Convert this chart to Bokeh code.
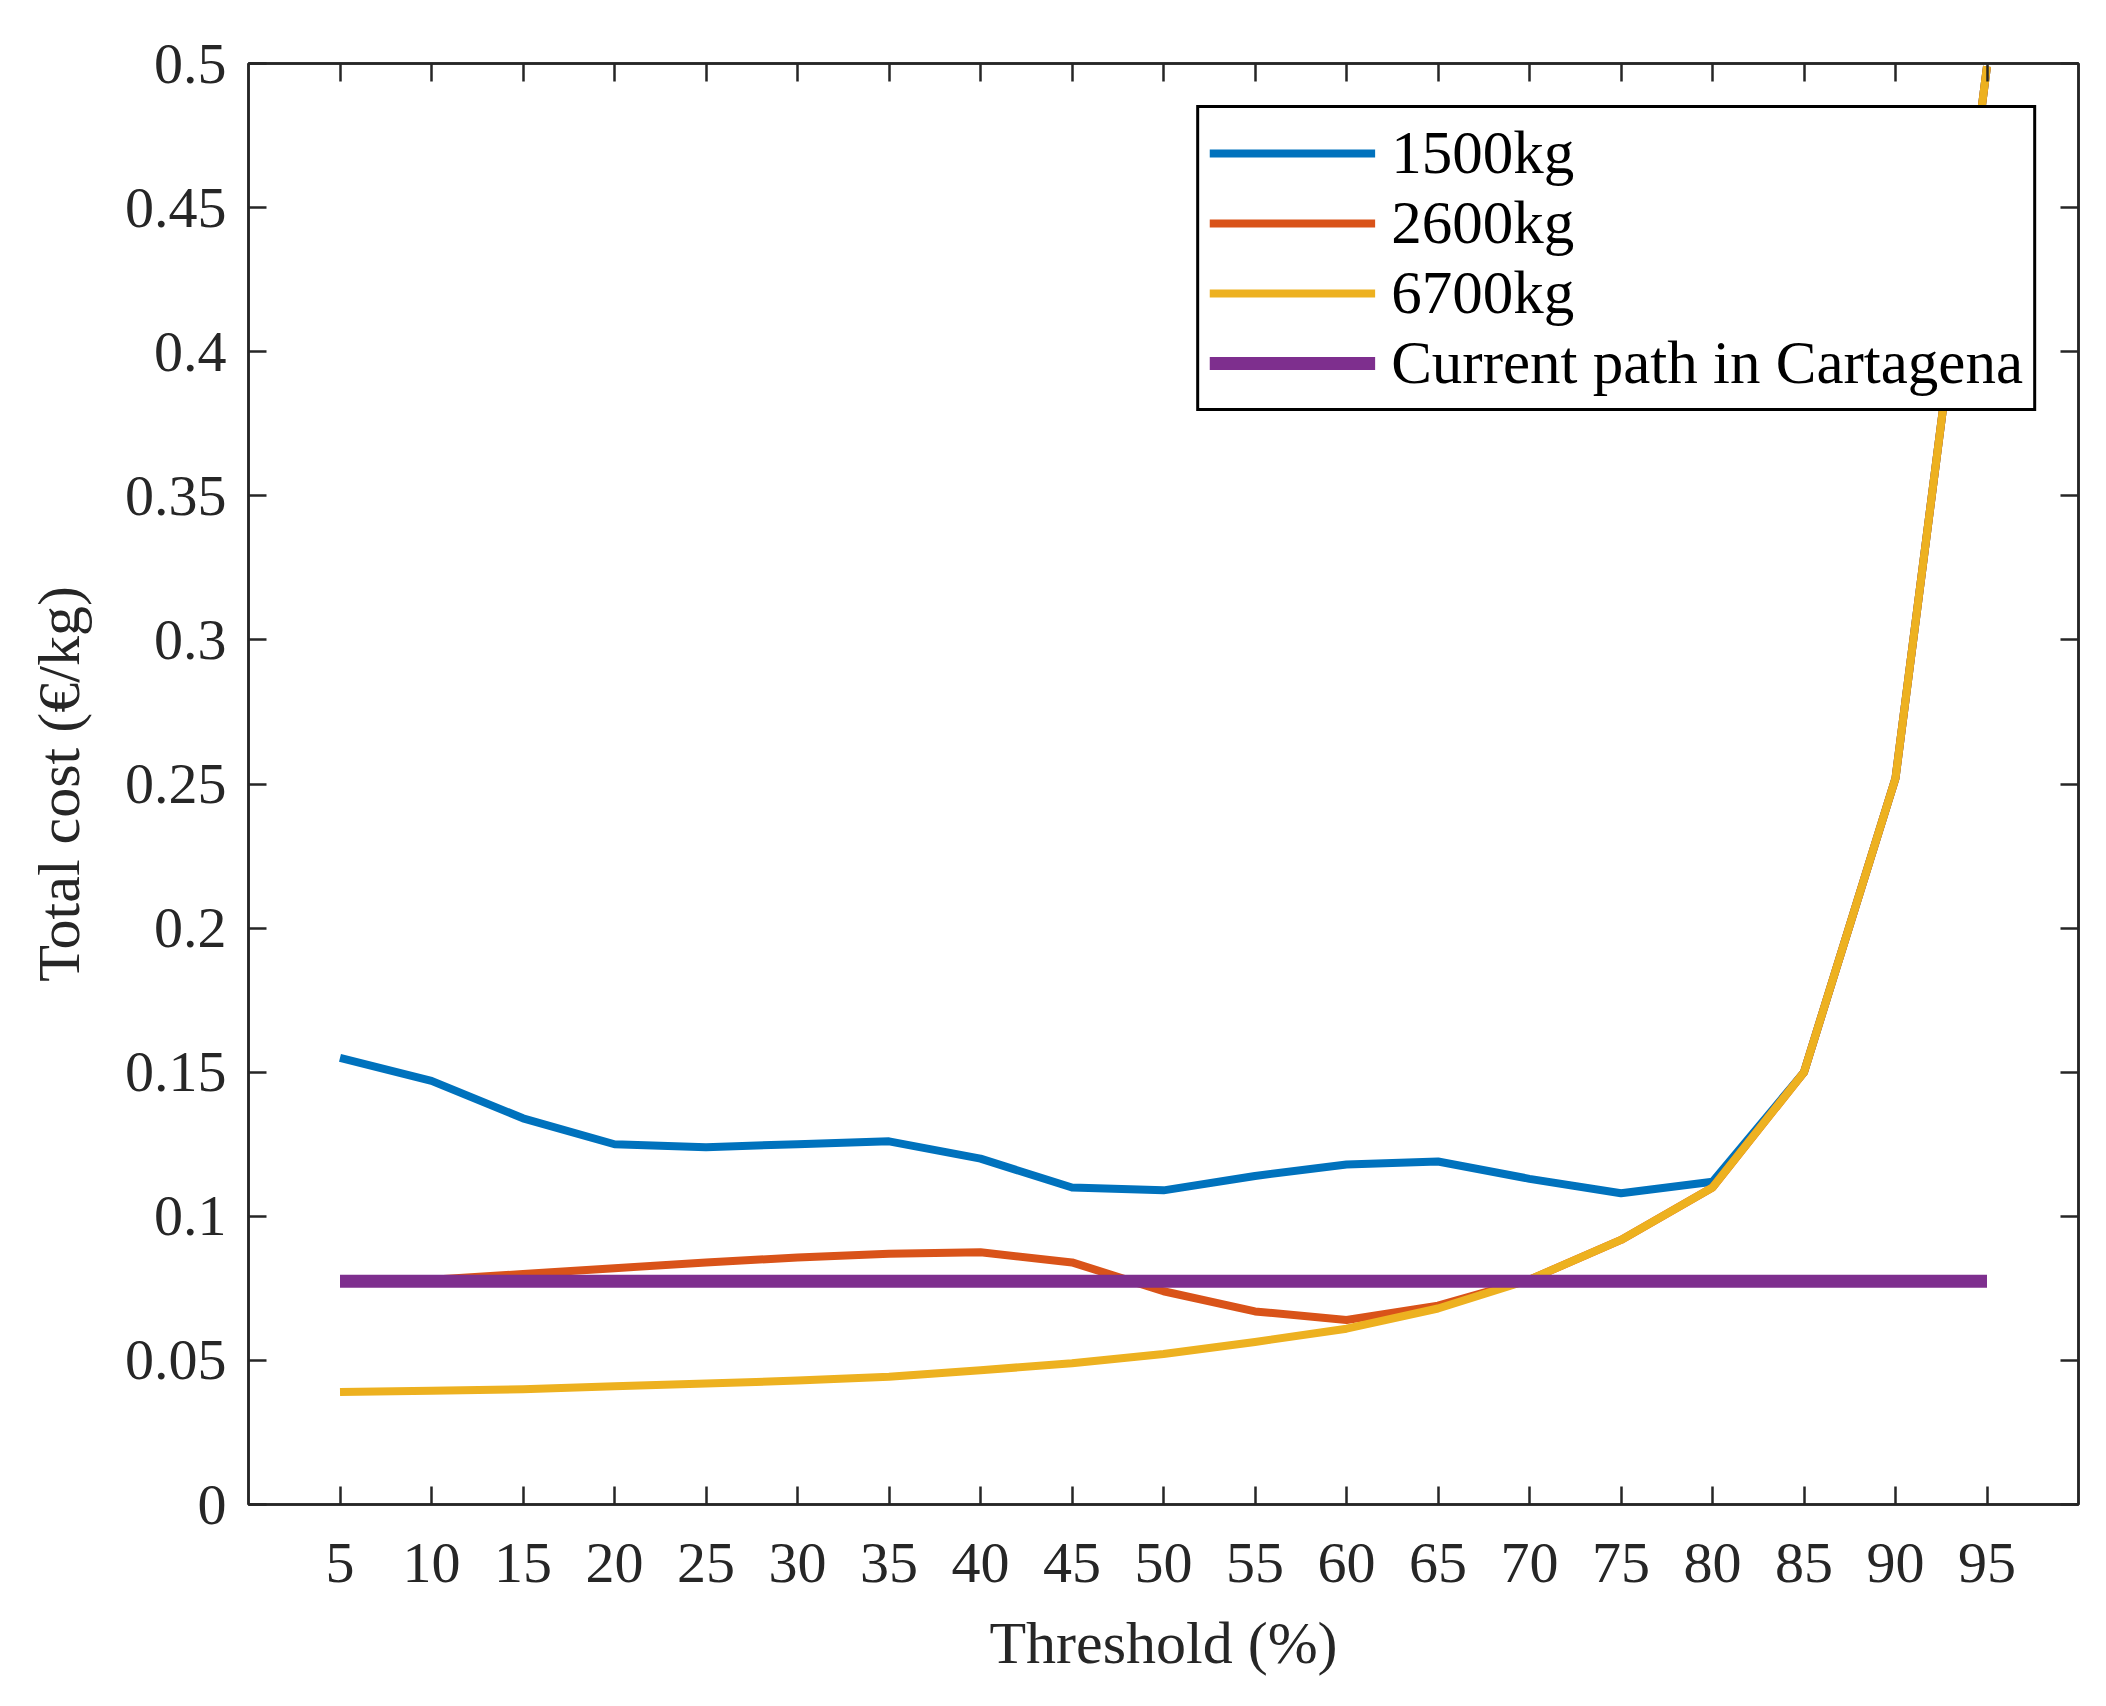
from bokeh.plotting import figure
from bokeh.models import LinearAxis, FixedTicker, CustomJSTickFormatter, Range1d, Legend, LegendItem
from bokeh.embed import file_html
from bokeh.resources import INLINE

threshold = [5, 10, 15, 20, 25, 30, 35, 40, 45, 50, 55, 60, 65, 70, 75, 80, 85, 90, 95]
cost_1500 = [0.155, 0.147, 0.134, 0.125, 0.124, 0.125, 0.126, 0.120, 0.110, 0.109, 0.114, 0.118, 0.119, 0.113, 0.108, 0.112, 0.150, 0.252, 0.499]
cost_2600 = [0.078, 0.078, 0.080, 0.082, 0.084, 0.0857, 0.087, 0.0875, 0.084, 0.074, 0.067, 0.064, 0.069, 0.078, 0.0918, 0.110, 0.150, 0.252, 0.499]
cost_6700 = [0.039, 0.0395, 0.040, 0.041, 0.042, 0.043, 0.0443, 0.0466, 0.049, 0.0522, 0.0564, 0.061, 0.068, 0.078, 0.0918, 0.110, 0.150, 0.252, 0.499]
current_path = [0.0775] * len(threshold)

x_ticks = [5, 10, 15, 20, 25, 30, 35, 40, 45, 50, 55, 60, 65, 70, 75, 80, 85, 90, 95]
y_ticks = [0, 0.05, 0.1, 0.15, 0.2, 0.25, 0.3, 0.35, 0.4, 0.45, 0.5]

labels = ["1500kg", "2600kg", "6700kg", "Current path in Cartagena"]
colors = ["#0072BD", "#D95319", "#EDB120", "#7E2F8E"]

FONT = "Liberation Serif"
TXT = "#262626"

p = figure(width=2090, height=1690, output_backend="svg", toolbar_location=None,
           x_range=Range1d(0, 100), y_range=Range1d(0, 0.5),
           min_border_left=248, min_border_right=12, min_border_top=63, min_border_bottom=186)
p.xgrid.visible = False
p.ygrid.visible = False
p.background_fill_color = "white"
p.border_fill_color = "white"
p.outline_line_color = TXT
p.outline_line_width = 2.5
p.outline_line_alpha = 1.0

fmt = CustomJSTickFormatter(code="return Number(tick.toFixed(2)).toString();")

for ax, ticks in ((p.xaxis[0], x_ticks), (p.yaxis[0], y_ticks)):
    ax.ticker = FixedTicker(ticks=ticks)
    ax.formatter = fmt
    ax.major_tick_in = 18
    ax.major_tick_out = 0
    ax.minor_tick_in = 0
    ax.minor_tick_out = 0
    ax.major_tick_line_width = 2.5
    ax.major_tick_line_color = TXT
    ax.axis_line_color = TXT
    ax.axis_line_width = 2.5
    ax.major_label_text_font = FONT
    ax.major_label_text_font_size = "58px"
    ax.major_label_text_color = TXT
    ax.axis_label_text_font = FONT
    ax.axis_label_text_font_size = "60px"
    ax.axis_label_text_font_style = "normal"
    ax.axis_label_text_color = TXT

p.xaxis[0].axis_label = "Threshold (%)"
p.xaxis[0].major_label_standoff = 39
p.xaxis[0].axis_label_standoff = 25
p.yaxis[0].axis_label = "Total cost (€/kg)"
p.yaxis[0].major_label_standoff = 22
p.yaxis[0].axis_label_standoff = 30

for loc, ticks in (("above", x_ticks), ("right", y_ticks)):
    ax = LinearAxis(ticker=FixedTicker(ticks=ticks), major_label_text_font_size="1px",
                    major_label_text_color=None, major_label_text_alpha=0,
                    major_label_standoff=0, major_tick_in=18, major_tick_out=0,
                    minor_tick_in=0, minor_tick_out=0, major_tick_line_width=2.5,
                    major_tick_line_color=TXT, axis_line_color=TXT, axis_line_width=2.5)
    p.add_layout(ax, loc)

renderers = []
series = [cost_1500, cost_2600, cost_6700, current_path]
widths = [8, 8, 8, 13]
for ys, c, w in zip(series, colors, widths):
    r = p.line(threshold, ys, line_color=c, line_width=w, line_join="round")
    renderers.append(r)

legend = Legend(items=[LegendItem(label=l, renderers=[r]) for l, r in zip(labels, renderers)],
                location="top_right", margin=42, padding=10, spacing=0,
                label_height=20, glyph_height=20, glyph_width=166, label_standoff=16,
                label_text_font=FONT, label_text_font_size="61px", label_text_color="black",
                border_line_color="black", border_line_alpha=1.0, border_line_width=3,
                background_fill_alpha=1.0)
p.add_layout(legend, "center")

open("out.html", "w").write(file_html(p, INLINE))
